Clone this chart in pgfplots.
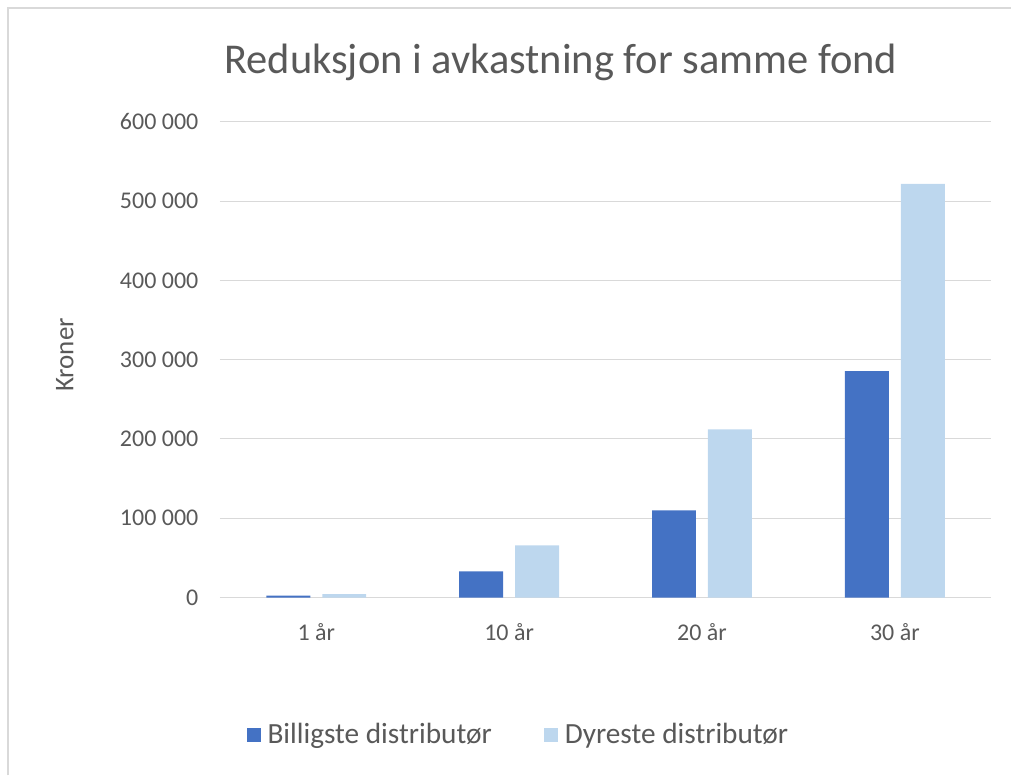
\documentclass[border=0pt]{standalone}
\usepackage{fontspec}
\setmainfont{Carlito}
\usepackage{pgfplots}
\pgfplotsset{compat=1.18}
\definecolor{darkbar}{HTML}{4472C4}
\definecolor{lightbar}{HTML}{BDD7EE}
\definecolor{txt}{HTML}{595959}
\definecolor{grd}{HTML}{D9D9D9}
\begin{document}
\begin{tikzpicture}
\begin{axis}[
  scale only axis, width=772pt, height=476pt,
  clip=false,
  xmin=-0.5, xmax=3.5, ymin=0, ymax=600000,
  ybar, bar width=44pt,
  xtick={0,1,2,3}, xticklabels={1 år,10 år,20 år,30 år},
  ytick={0,100000,200000,300000,400000,500000,600000},
  yticklabels={0,100 000,200 000,300 000,400 000,500 000,600 000},
  scaled y ticks=false,
  major tick length=0pt,
  tick style={draw=none},
  axis x line*=bottom, axis y line*=left,
  y axis line style={draw=none},
  x axis line style={draw=grd, line width=1.5pt},
  ymajorgrids, grid style={draw=grd, line width=1pt},
  ticklabel style={font=\fontsize{24}{28}\selectfont, text=txt},
  yticklabel style={xshift=-18pt},
  xticklabel style={yshift=-22pt},
  ylabel={Kroner},
  ylabel style={at={(axis description cs:-0.2008,0.51)}, anchor=center, font=\fontsize{27}{32}\selectfont, text=txt},
  title={Reduksjon i avkastning for samme fond},
  title style={at={(axis description cs:0.442,1.112)}, anchor=center, font=\fontsize{42.5}{48}\selectfont, text=txt},
  legend style={at={(axis description cs:0.387,-0.288)}, anchor=center, draw=none, legend columns=2,
    font=\fontsize{29.3}{34}\selectfont, text=txt,
    /tikz/every odd column/.append style={column sep=5pt},
    /tikz/every even column/.append style={column sep=50pt}},
  legend image code/.code={\fill[#1] (0pt,-7pt) rectangle (14pt,7pt);},
]
\addplot[fill=darkbar, draw=none, bar shift=-28pt] coordinates {(0,2500) (1,32900) (2,110000) (3,285600)};
\addplot[fill=lightbar, draw=none, bar shift=28pt] coordinates {(0,4200) (1,65700) (2,212000) (3,521900)};
\legend{Billigste distributør, Dyreste distributør}
\path (rel axis cs:-0.28497,-0.37395) rectangle (rel axis cs:1.02591,1.25630);
\draw[grd, line width=1.5pt] (rel axis cs:-0.27461,-0.37395) -- (rel axis cs:-0.27461,1.23950) -- (rel axis cs:1.02591,1.23950);
\end{axis}
\end{tikzpicture}
\end{document}
